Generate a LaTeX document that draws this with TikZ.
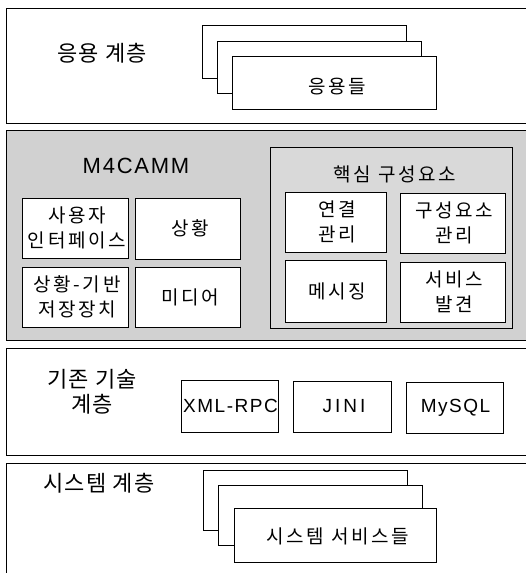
\documentclass[tikz,border=0pt]{standalone}
\usepackage{fontspec}
\setmainfont{Noto Sans CJK KR}
\newfontfamily\kbox[LetterSpace=14]{Noto Sans CJK KR}
\newfontfamily\klay[LetterSpace=6]{Noto Sans CJK KR}
\newfontfamily\latin[LetterSpace=8]{Liberation Sans}
\begin{document}
\begin{tikzpicture}[x=1pt,y=-1pt,
  layer/.style={draw,line width=0.8pt},
  box/.style={draw,fill=white,line width=0.8pt},
  lbl/.style={font=\klay\fontsize{22}{25}\selectfont,align=center},
  blbl/.style={font=\kbox\fontsize{19}{25}\selectfont,align=center},
  lat/.style={font=\latin\fontsize{19}{22}\selectfont},
]
\useasboundingbox (0,0) rectangle (526,573);
% layer 1
\draw[layer] (6,8) rectangle (532,123);
\node[lbl] (l1) at (102,53) {응용 계층};
\draw[box] (202,25) rectangle (406,78);
\draw[box] (217,41) rectangle (421,93);
\draw[box] (232,56) rectangle (436,109);
\node[blbl] (apps) at (337,87) {응용들};
% layer 2
\draw[layer,fill=black!18] (6,130) rectangle (532,340);
\node[font=\latin\fontsize{22}{26}\selectfont] (m4) at (136,166) {M4CAMM};
\draw[box] (22,198) rectangle (128,258);
\node[blbl] (ui) at (77,228) {사용자\\인터페이스};
\draw[box] (135,198) rectangle (240,259);
\node[blbl] (ctx) at (190,228) {상황};
\draw[box] (22,267) rectangle (128,327);
\node[blbl] (cs) at (77,297) {상황-기반\\저장장치};
\draw[box] (135,267) rectangle (240,327);
\node[blbl] (media) at (190,297) {미디어};
\draw[layer,fill=black!15] (270,147) rectangle (512,328);
\node[blbl] (core) at (395,174) {핵심 구성요소};
\draw[box] (285,192) rectangle (386,252);
\node[blbl] (conn) at (337,222) {연결\\관리};
\draw[box] (400,193) rectangle (505,253);
\node[blbl] (comp) at (454,223) {구성요소\\관리};
\draw[box] (285,260) rectangle (386,322);
\node[blbl] (msg) at (337,291) {메시징};
\draw[box] (400,262) rectangle (505,322);
\node[blbl] (disc) at (454,292) {서비스\\발견};
% layer 3
\draw[layer] (6,348) rectangle (532,455);
\node[lbl] (l3) at (92,392) {기존 기술\\계층};
\draw[box] (181,380) rectangle (278,432);
\node[lat] (xml) at (230.5,406) {XML-RPC};
\draw[box] (293,381) rectangle (391,432);
\node[font=\latin\fontsize{19}{22}\selectfont\addfontfeature{LetterSpace=16}] (jini) at (344,406.5) {JINI};
\draw[box] (406,382) rectangle (503,433);
\node[lat] (mysql) at (455.5,407.5) {MySQL};
% layer 4
\draw[layer] (6,463) rectangle (532,580);
\node[lbl] (l4) at (99,483) {시스템 계층};
\draw[box] (203,470) rectangle (407,530);
\draw[box] (218,485) rectangle (422,545);
\draw[box] (234,508) rectangle (436,562);
\node[blbl] (sys) at (338,536) {시스템 서비스들};
\end{tikzpicture}
\end{document}
